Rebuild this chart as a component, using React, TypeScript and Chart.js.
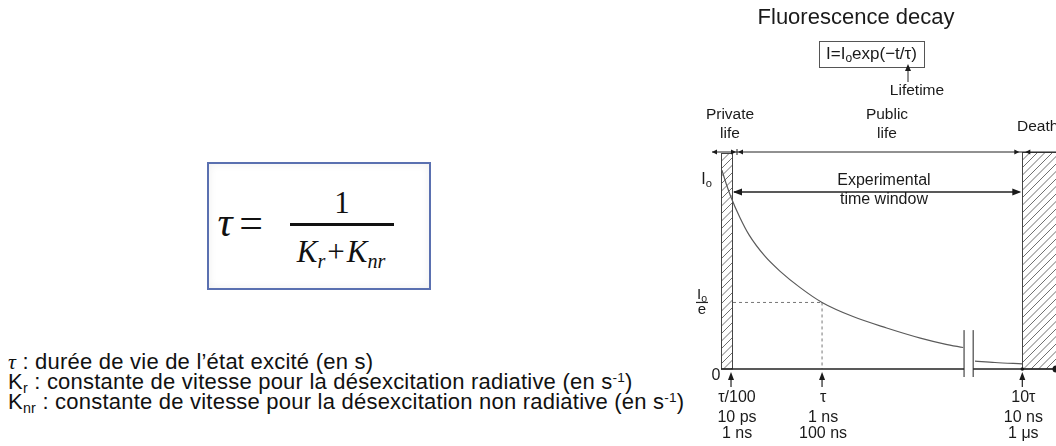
import React, { useEffect, useRef } from "react";
import { Chart, registerables } from "chart.js";

Chart.register(...registerables);

// ---- data (time in units of tau, schematic axis; intensity in units of I0) ----
const decayTime = [-0.1, -0.05, 0, 0.1, 0.2, 0.37, 0.54, 0.76, 1.0, 1.34, 1.71, 2.08, 2.35, 2.55];
const decayIntensity = [1.1, 1.02, 0.95, 0.835, 0.74, 0.625, 0.54, 0.45, 0.368, 0.29, 0.227, 0.171, 0.138, 0.119];
const tailTime = [2.68, 2.9, 3.2];
const tailIntensity = [0.044, 0.036, 0.028];

const tickTimes = [0, 1, 3.2];
const tickLines = [
  ["τ/100", "10 ps", "1 ns"],
  ["τ", "1 ns", "100 ns"],
  ["10τ", "10 ns", "1 μs"],
];
const levelValues = [1.05, 0.368, 0];

const xMin = -0.11;
const xMax = 3.57;
const yMax = 1.2;
const breakStart = 2.56;
const breakEnd = 2.66;
const windowStart = 0;
const windowEnd = 3.2;

const FONT = '"Liberation Sans", Arial, Helvetica, sans-serif';
const MATH = '"Liberation Serif", "DejaVu Serif", serif';
const INK = "#1a1a1a";

function head(ctx: CanvasRenderingContext2D, x: number, y: number, angle: number, len = 6, w = 3) {
  ctx.save();
  ctx.translate(x, y);
  ctx.rotate(angle);
  ctx.beginPath();
  ctx.moveTo(0, 0);
  ctx.lineTo(-len, -w);
  ctx.lineTo(-len, w);
  ctx.closePath();
  ctx.fill();
  ctx.restore();
}

function line(ctx: CanvasRenderingContext2D, x1: number, y1: number, x2: number, y2: number) {
  ctx.beginPath();
  ctx.moveTo(x1, y1);
  ctx.lineTo(x2, y2);
  ctx.stroke();
}

function hatch(ctx: CanvasRenderingContext2D, x1: number, y1: number, x2: number, y2: number) {
  ctx.save();
  ctx.beginPath();
  ctx.rect(x1, y1, x2 - x1, y2 - y1);
  ctx.clip();
  ctx.strokeStyle = "#707070";
  ctx.lineWidth = 1;
  const h = y2 - y1;
  for (let s = x1 - h; s < x2 + 10; s += 7.5) {
    line(ctx, s, y2, s + h, y1);
  }
  ctx.restore();
  ctx.save();
  ctx.strokeStyle = "#444";
  ctx.lineWidth = 1;
  ctx.strokeRect(x1, y1, x2 - x1, y2 - y1);
  ctx.restore();
}

function text(ctx: CanvasRenderingContext2D, s: string, x: number, y: number, size: number, align: CanvasTextAlign = "center") {
  ctx.font = `${size}px ${FONT}`;
  ctx.textAlign = align;
  ctx.textBaseline = "middle";
  ctx.fillText(s, x, y);
}

// draws "I" with subscript "o" ending/centred as asked
function iSubO(ctx: CanvasRenderingContext2D, x: number, y: number, size: number, align: "center" | "right") {
  ctx.font = `${size}px ${FONT}`;
  const w1 = ctx.measureText("I").width;
  ctx.font = `${size * 0.7}px ${FONT}`;
  const w2 = ctx.measureText("o").width;
  const total = w1 + w2;
  const start = align === "center" ? x - total / 2 : x - total;
  ctx.textAlign = "left";
  ctx.textBaseline = "middle";
  ctx.font = `${size}px ${FONT}`;
  ctx.fillText("I", start, y);
  ctx.font = `${size * 0.7}px ${FONT}`;
  ctx.fillText("o", start + w1, y + size * 0.3);
}

const diagramPlugin = {
  id: "diagram",
  beforeDatasetsDraw(chart: any) {
    const ctx: CanvasRenderingContext2D = chart.ctx;
    const xs = chart.scales.x;
    const ys = chart.scales.y;
    const top = chart.chartArea.top;
    const y0 = ys.getPixelForValue(0);
    ctx.save();
    hatch(ctx, Math.round(xs.getPixelForValue(xMin)) + 0.5, top + 1.5, Math.round(xs.getPixelForValue(windowStart)) + 1.5, y0);
    hatch(ctx, Math.round(xs.getPixelForValue(windowEnd)) + 0.5, top + 0.5, xs.getPixelForValue(xMax) + 6, y0);

    // dotted guides at tau, I0/e
    ctx.strokeStyle = "#777";
    ctx.lineWidth = 1;
    ctx.setLineDash([3, 3]);
    const ye = ys.getPixelForValue(levelValues[1]);
    const xt = xs.getPixelForValue(tickTimes[1]);
    line(ctx, xs.getPixelForValue(windowStart) + 2, ye, xt, ye);
    line(ctx, xt, ye, xt, y0);
    ctx.setLineDash([]);
    ctx.restore();
  },
  afterDatasetsDraw(chart: any) {
    const ctx: CanvasRenderingContext2D = chart.ctx;
    const xs = chart.scales.x;
    const ys = chart.scales.y;
    const top = chart.chartArea.top;
    const y0 = ys.getPixelForValue(0);
    const xw0 = xs.getPixelForValue(windowStart);
    const xw1 = xs.getPixelForValue(windowEnd);
    const xb0 = xs.getPixelForValue(breakStart);
    const xb1 = xs.getPixelForValue(breakEnd);
    const xRight = xs.getPixelForValue(xMax);
    ctx.save();
    ctx.fillStyle = INK;
    ctx.strokeStyle = "#222";

    // baseline with break
    ctx.lineWidth = 1.6;
    line(ctx, xs.getPixelForValue(xMin), y0, xb0, y0);
    line(ctx, xb1, y0, xRight, y0);
    ctx.lineWidth = 1;
    line(ctx, xb0, ys.getPixelForValue(0.215), xb0, y0 + 8);
    line(ctx, xb1, ys.getPixelForValue(0.215), xb1, y0 + 8);
    ctx.beginPath();
    ctx.arc(xRight, y0, 3.5, 0, Math.PI * 2);
    ctx.fill();
    ctx.beginPath();
    ctx.arc(xw1, y0, 1.8, 0, Math.PI * 2);
    ctx.fill();

    // top life-span arrows
    ctx.lineWidth = 1;
    const yt = top;
    line(ctx, xs.getPixelForValue(xMin) - 9, yt, xRight, yt);
    head(ctx, xw0 + 5, yt, 0, 5, 2.5);
    head(ctx, xs.getPixelForValue(xMin) - 9, yt, Math.PI, 5, 2.5);
    line(ctx, xw0 + 6, yt - 3, xw0 + 6, yt + 3);
    head(ctx, xw0 + 7, yt, Math.PI, 5, 2.5);
    head(ctx, xw1 - 3, yt, 0, 5, 2.5);
    head(ctx, xw1 + 3, yt, Math.PI, 5, 2.5);

    // experimental time window arrow
    const yx = top + 40;
    ctx.lineWidth = 1.5;
    line(ctx, xw0 + 3, yx, xw1 - 3, yx);
    head(ctx, xw0 + 2, yx, Math.PI, 9, 3.5);
    head(ctx, xw1 - 1, yx, 0, 9, 3.5);
    text(ctx, "Experimental", xs.getPixelForValue(1.68), yx - 11, 16);
    text(ctx, "time window", xs.getPixelForValue(1.68), yx + 8, 16);

    // bottom arrows and tick labels
    ctx.lineWidth = 1.2;
    tickTimes.forEach((t, i) => {
      const x = xs.getPixelForValue(t);
      line(ctx, x, y0 + 18, x, y0 + 6);
      head(ctx, x, y0 + 3, -Math.PI / 2, 8, 3);
      const ly = [y0 + 29, y0 + 49, y0 + 65];
      tickLines[i].forEach((s, k) => text(ctx, s, x + (i === 0 ? 6 : 1), ly[k], 16));
    });

    // y level labels
    iSubO(ctx, 32, ys.getPixelForValue(levelValues[0]), 16, "right");
    const ye = ys.getPixelForValue(levelValues[1]);
    iSubO(ctx, 22, ye - 8, 15, "center");
    ctx.lineWidth = 1.2;
    line(ctx, 16, ye, 28, ye);
    text(ctx, "e", 22, ye + 7, 15);
    text(ctx, "0", 36, ys.getPixelForValue(levelValues[2]) + 7, 16);

    // region labels
    text(ctx, "Private", 50, 115, 15.5);
    text(ctx, "life", 50, 134, 15.5);
    text(ctx, "Public", 207, 115, 15.5);
    text(ctx, "life", 207, 134, 15.5);
    text(ctx, "Death", 337, 127, 15.5, "left");

    // title and formula
    text(ctx, "Fluorescence decay", 176, 18, 22);
    ctx.strokeStyle = "#555";
    ctx.lineWidth = 1;
    ctx.strokeRect(139.5, 41.5, 105, 26);
    ctx.font = `17px ${FONT}`;
    const pA = "I=I";
    const pB = "exp(−t/τ)";
    const wA = ctx.measureText(pA).width;
    const wB = ctx.measureText(pB).width;
    ctx.font = `12px ${FONT}`;
    const wS = ctx.measureText("o").width;
    const sx = 191.5 - (wA + wS + wB) / 2;
    ctx.textAlign = "left";
    ctx.textBaseline = "middle";
    ctx.font = `17px ${FONT}`;
    ctx.fillText(pA, sx, 54);
    ctx.font = `12px ${FONT}`;
    ctx.fillText("o", sx + wA, 59);
    ctx.font = `17px ${FONT}`;
    ctx.fillText(pB, sx + wA + wS, 54);

    // lifetime pointer
    ctx.strokeStyle = "#222";
    line(ctx, 228, 82, 228, 70);
    head(ctx, 228, 64, -Math.PI / 2, 7, 3);
    text(ctx, "Lifetime", 237, 91, 15.5);
    ctx.restore();
  },
};

function abs(cx: number, cy: number, extra: React.CSSProperties = {}): React.CSSProperties {
  return {
    position: "absolute",
    left: cx,
    top: cy,
    transform: "translate(-50%, -50%)",
    lineHeight: 1,
    whiteSpace: "nowrap",
    fontFamily: MATH,
    color: "#111",
    ...extra,
  };
}

const subStyle: React.CSSProperties = { fontSize: "0.65em", position: "relative", top: "0.28em", lineHeight: 0 };
const supStyle: React.CSSProperties = { fontSize: "0.62em", position: "relative", top: "-0.5em", lineHeight: 0 };

export default function App() {
  const canvasRef = useRef<HTMLCanvasElement | null>(null);

  useEffect(() => {
    const canvas = canvasRef.current;
    if (!canvas) return;
    const chart = new Chart(canvas, {
      type: "line",
      data: {
        datasets: [
          {
            data: decayTime.map((t, i) => ({ x: t, y: decayIntensity[i] })),
            borderColor: "#5a5a5a",
            borderWidth: 1.2,
            pointRadius: 0,
            cubicInterpolationMode: "monotone",
            fill: false,
          },
          {
            data: tailTime.map((t, i) => ({ x: t, y: tailIntensity[i] })),
            borderColor: "#5a5a5a",
            borderWidth: 1.2,
            pointRadius: 0,
            cubicInterpolationMode: "monotone",
            fill: false,
          },
        ],
      },
      options: {
        animation: false,
        responsive: false,
        maintainAspectRatio: false,
        devicePixelRatio: 1,
        events: [],
        layout: { padding: { left: 41, right: 0, top: 152, bottom: 77 } },
        scales: {
          x: { type: "linear", min: xMin, max: xMax, display: false },
          y: { type: "linear", min: 0, max: yMax, display: false },
        },
        plugins: { legend: { display: false }, tooltip: { enabled: false }, title: { display: false } },
      },
      plugins: [diagramPlugin],
    } as any);
    return () => chart.destroy();
  }, []);

  return (
    <div style={{ position: "absolute", left: 0, top: 0, width: 1056, height: 446, background: "#fff", overflow: "hidden" }}>
      {/* formula box */}
      <div
        style={{
          position: "absolute",
          left: 207,
          top: 162,
          width: 224,
          height: 128,
          border: "2px solid #5a70b0",
          boxSizing: "border-box",
          boxShadow: "inset 0 0 8px rgba(0,0,0,0.07)",
        }}
      />
      <span style={abs(225, 222, { fontSize: 42, fontStyle: "italic" })}>τ</span>
      <span style={abs(251, 223, { fontSize: 42 })}>=</span>
      <span style={abs(342, 202, { fontSize: 31 })}>1</span>
      <div style={{ position: "absolute", left: 290, top: 223, width: 104, height: 3, background: "#111" }} />
      <span style={abs(341, 251, { fontSize: 31 })}>
        <i>K</i>
        <i style={subStyle}>r</i>
        <span style={{ margin: "0 2px" }}>+</span>
        <i>K</i>
        <i style={subStyle}>nr</i>
      </span>

      {/* definitions */}
      <div
        style={{
          position: "absolute",
          left: 8,
          top: 352,
          fontFamily: FONT,
          fontSize: 22,
          lineHeight: "20px",
          letterSpacing: "0.22px",
          color: "#111",
          whiteSpace: "nowrap",
        }}
      >
        <div>
          <span style={{ fontFamily: MATH, fontStyle: "italic" }}>τ</span> : durée de vie de l’état excité (en s)
        </div>
        <div>
          K<span style={subStyle}>r</span> : constante de vitesse pour la désexcitation radiative (en s<span style={supStyle}>-1</span>)
        </div>
        <div>
          K<span style={subStyle}>nr</span> : constante de vitesse pour la désexcitation non radiative (en s<span style={supStyle}>-1</span>)
        </div>
      </div>

      <canvas
        ref={canvasRef}
        width={376}
        height={446}
        style={{ position: "absolute", left: 680, top: 0, width: 376, height: 446 }}
      />
    </div>
  );
}
